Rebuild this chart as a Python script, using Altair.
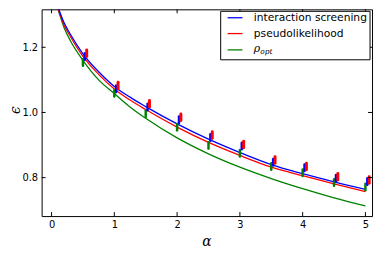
import altair as alt
import pandas as pd

# ---- data ----
alpha_curve = [0.1, 0.2, 0.3, 0.5, 0.75, 1.0, 1.25, 1.5, 2.0, 2.5, 3.0, 3.5, 4.0, 4.5, 5.0]
eps_is = [1.325, 1.275, 1.240, 1.180, 1.125, 1.080, 1.047, 1.018, 0.965, 0.918, 0.877, 0.840, 0.812, 0.787, 0.764]
eps_pl = [1.320, 1.268, 1.233, 1.172, 1.117, 1.072, 1.038, 1.009, 0.955, 0.908, 0.868, 0.832, 0.806, 0.781, 0.757]
eps_opt = [1.318, 1.260, 1.220, 1.160, 1.100, 1.058, 1.017, 0.982, 0.922, 0.873, 0.832, 0.797, 0.766, 0.738, 0.713]

alpha_pts = [0.5, 1.0, 1.5, 2.0, 2.5, 3.0, 3.5, 4.0, 4.5, 5.0]
pts_opt = [1.153, 1.059, 0.996, 0.955, 0.899, 0.875, 0.834, 0.815, 0.785, 0.771]
pts_is = [1.172, 1.073, 1.017, 0.978, 0.923, 0.897, 0.847, 0.830, 0.798, 0.788]
pts_pl = [1.182, 1.083, 1.027, 0.985, 0.931, 0.902, 0.854, 0.834, 0.803, 0.793]
err_half = 0.01

x_ticks = [0, 1, 2, 3, 4, 5]
y_ticks = [0.8, 1.0, 1.2]
legend_labels = ["interaction screening", "pseudolikelihood"]

X_DOM = [-0.158, 5.105]
Y_DOM = [0.682, 1.3165]
W, H = 334, 209

xs = alt.Scale(domain=X_DOM, nice=False, zero=False)
ys = alt.Scale(domain=Y_DOM, nice=False, zero=False)

BLUE, RED, GREEN = "#0000ff", "#ff0000", "#008000"

def curve(vals, color):
    df = pd.DataFrame({"a": alpha_curve, "e": vals})
    return alt.Chart(df).mark_line(color=color, strokeWidth=1.3, clip=True, interpolate="monotone").encode(
        x=alt.X("a:Q", scale=xs), y=alt.Y("e:Q", scale=ys))

def bars(vals, shift, color, sw):
    df = pd.DataFrame({"a": [a + shift for a in alpha_pts],
                       "lo": [v - err_half for v in vals],
                       "hi": [v + err_half for v in vals]})
    return alt.Chart(df).mark_rule(color=color, strokeWidth=sw, strokeCap="round").encode(
        x=alt.X("a:Q", scale=xs), y=alt.Y("lo:Q", scale=ys), y2="hi:Q")

# base with axes (labels only)
base = alt.Chart(pd.DataFrame({"a": [0.0], "e": [1.0]})).mark_point(opacity=0).encode(
    x=alt.X("a:Q", scale=xs, axis=alt.Axis(values=x_ticks, format="d", title=None, tickSize=0,
                                           domain=False, grid=False, labelPadding=4,
                                           labelFont="DejaVu Sans", labelFontSize=10, labelColor="black")),
    y=alt.Y("e:Q", scale=ys, axis=alt.Axis(values=y_ticks, format=".1f", title=None, tickSize=0,
                                           domain=False, grid=False, labelPadding=4,
                                           labelFont="DejaVu Sans", labelFontSize=10, labelColor="black")),
)

xt = pd.DataFrame({"t": x_ticks})
yt = pd.DataFrame({"t": y_ticks})
ticks = [
    alt.Chart(xt).mark_rule(color="black", strokeWidth=1).encode(
        x=alt.X("t:Q", scale=xs), y=alt.value(H), y2=alt.value(H - 4)),
    alt.Chart(xt).mark_rule(color="black", strokeWidth=1).encode(
        x=alt.X("t:Q", scale=xs), y=alt.value(0), y2=alt.value(4)),
    alt.Chart(yt).mark_rule(color="black", strokeWidth=1).encode(
        y=alt.Y("t:Q", scale=ys), x=alt.value(0), x2=alt.value(4)),
    alt.Chart(yt).mark_rule(color="black", strokeWidth=1).encode(
        y=alt.Y("t:Q", scale=ys), x=alt.value(W - 4), x2=alt.value(W)),
]

one = pd.DataFrame({"k": [0]})
lx0, lx1, ly0, ly1 = 181, 332, 2, 51
rows = [8.5, 24.5, 41]
legend = [
    alt.Chart(one).mark_rect(fill="white", stroke="black", strokeWidth=1).encode(
        x=alt.value(lx0), x2=alt.value(lx1), y=alt.value(ly0), y2=alt.value(ly1)),
]
for r, c in zip(rows, [BLUE, RED, GREEN]):
    legend.append(alt.Chart(one).mark_rule(color=c, strokeWidth=1.3).encode(
        x=alt.value(188), x2=alt.value(203), y=alt.value(r)))
for r, lab in zip(rows[:2], legend_labels):
    legend.append(alt.Chart(pd.DataFrame({"l": [lab]})).mark_text(
        align="left", baseline="middle", font="DejaVu Sans", fontSize=10.8, color="black").encode(
        x=alt.value(214.5), y=alt.value(r), text="l:N"))
legend.append(alt.Chart(pd.DataFrame({"l": ["ρ"]})).mark_text(
    align="left", baseline="middle", font="DejaVu Serif", fontStyle="italic", fontSize=11, color="black").encode(
    x=alt.value(214.5), y=alt.value(rows[2] - 1), text="l:N"))
legend.append(alt.Chart(pd.DataFrame({"l": ["opt"]})).mark_text(
    align="left", baseline="middle", font="DejaVu Serif", fontStyle="italic", fontSize=7.5, color="black").encode(
    x=alt.value(221), y=alt.value(rows[2] + 2), text="l:N"))

titles = [
    alt.Chart(pd.DataFrame({"l": ["α"]})).mark_text(
        font="DejaVu Serif", fontStyle="italic", fontSize=14, color="black", baseline="middle").encode(
        x=alt.value(167), y=alt.value(235), text="l:N"),
    alt.Chart(pd.DataFrame({"l": ["ϵ"]})).mark_text(
        font="DejaVu Serif", fontStyle="italic", fontSize=14, color="black", baseline="middle", angle=270).encode(
        x=alt.value(-26), y=alt.value(102), text="l:N"),
]

layers = [base,
          curve(eps_opt, GREEN), curve(eps_pl, RED), curve(eps_is, BLUE),
          bars(pts_opt, 0.0, GREEN, 2.5), bars(pts_is, 0.03, BLUE, 2.5), bars(pts_pl, 0.06, RED, 3)] \
    + ticks + legend + titles

chart = alt.layer(*layers).properties(
    width=W, height=H,
    autosize=alt.AutoSizeParams(type="none"),
    padding={"left": 34, "top": 0, "right": 2, "bottom": 38},
).configure(background="white", view=alt.ViewConfig(stroke="black", strokeWidth=1))

chart.save("out.html", embed_options={"renderer": "svg", "actions": False})
